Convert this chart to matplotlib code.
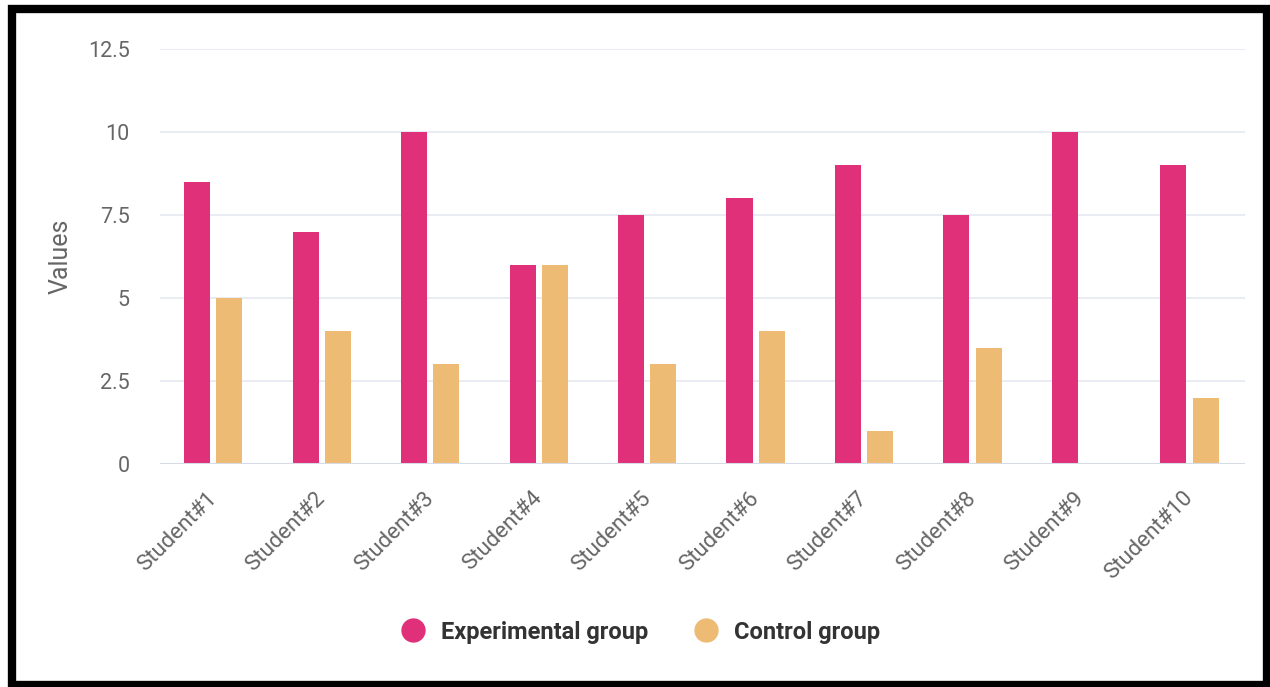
import matplotlib.pyplot as plt
import numpy as np
from matplotlib.patches import Rectangle
from matplotlib.lines import Line2D
from matplotlib.transforms import ScaledTranslation

plt.rcParams['font.family'] = ['Roboto', 'DejaVu Sans']

students = ['Student#1', 'Student#2', 'Student#3', 'Student#4', 'Student#5',
            'Student#6', 'Student#7', 'Student#8', 'Student#9', 'Student#10']
experimental = [8.5, 7, 10, 6, 7.5, 8, 9, 7.5, 10, 9]
control = [5, 4, 3, 6, 3, 4, 1, 3.5, 0, 2]
yticks = [0, 2.5, 5, 7.5, 10, 12.5]
ytick_labels = ['0', '2.5', '5', '7.5', '10', '12.5']

pink = '#e0307a'
orange = '#edbb74'

fig = plt.figure(figsize=(12.7, 6.87), dpi=100)
ax = fig.add_axes([0.126, 0.3246, 0.854, 0.6041])

x = np.arange(len(students))
w = 0.24
ax.bar(x - 0.157, experimental, width=w, color=pink, zorder=3)
ax.bar(x + 0.14, control, width=w, color=orange, zorder=3)

ax.set_xlim(-0.5, len(students) - 0.5)
ax.set_ylim(0, 12.5)
ax.set_yticks(yticks)
ax.set_yticklabels(ytick_labels)
ax.set_xticks(x)
ax.set_xticklabels(students, rotation=45, ha='right', rotation_mode='anchor')
ax.grid(axis='y', color='#e6e9f1', linewidth=1.2, zorder=0)
for s in ax.spines.values():
    s.set_visible(False)
ax.axhline(0, color='#d6dbe6', linewidth=1.5, zorder=4)
ax.tick_params(axis='both', length=0, colors='#666666')
ax.tick_params(axis='y', labelsize=15.5, pad=22)
ax.tick_params(axis='x', labelsize=16, pad=17)
# nudge the rotated labels a bit to the left
shift = ScaledTranslation(-8 / 100, 0, fig.dpi_scale_trans)
for lab in ax.get_xticklabels():
    lab.set_transform(lab.get_transform() + shift)
ax.set_ylabel('Values', fontsize=18, color='#666666', labelpad=11)

handles = [
    Line2D([], [], marker='o', linestyle='', markersize=16.5, color=pink),
    Line2D([], [], marker='o', linestyle='', markersize=16.5, color=orange),
]
leg = fig.legend(handles, ['Experimental group', 'Control group'], loc='center',
                 bbox_to_anchor=(641 / 1270, 1 - 632 / 687), ncol=2, frameon=False,
                 prop={'weight': 'bold', 'size': 17}, handletextpad=0.68,
                 columnspacing=1.95, handlelength=1.0)
for t in leg.get_texts():
    t.set_color('#333333')

# black frame around the picture
fig.add_artist(Rectangle((12 / 1270, 1 - 685 / 687), 1255 / 1270, 676 / 687,
                         transform=fig.transFigure, fill=False,
                         edgecolor='black', linewidth=6))

fig.savefig('out.png', dpi=100)
